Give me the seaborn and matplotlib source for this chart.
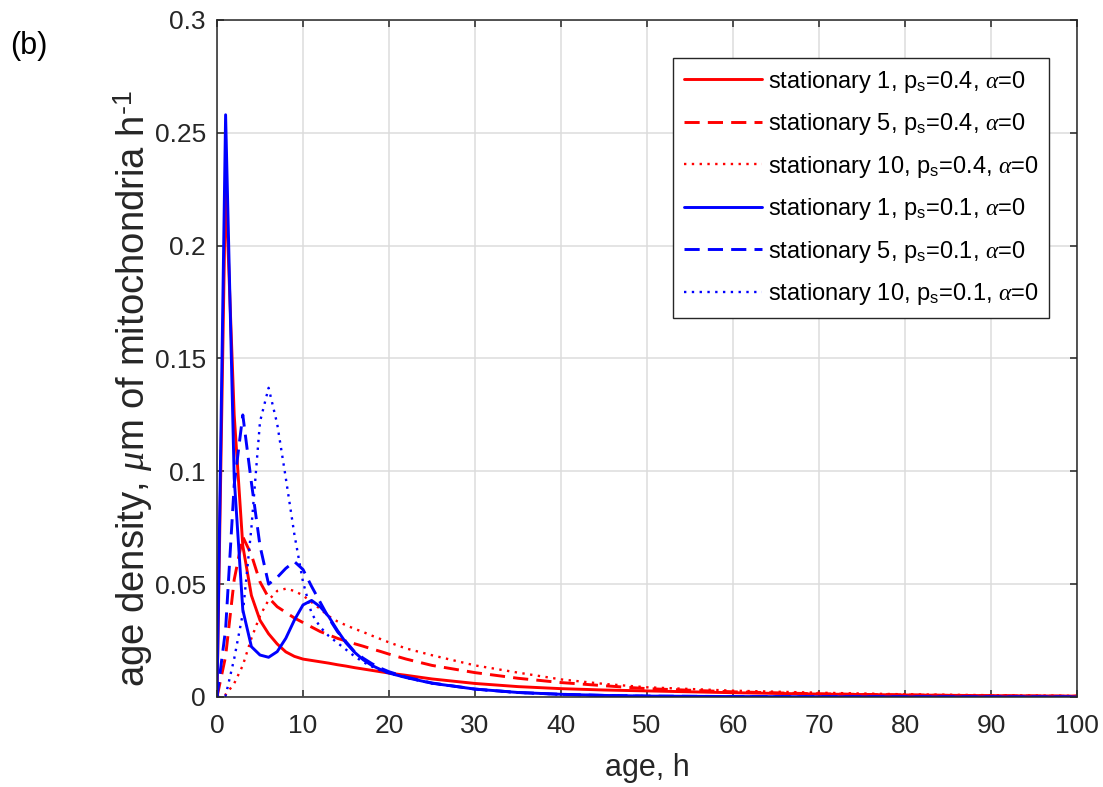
import numpy as np
import pandas as pd
import matplotlib
matplotlib.use("Agg")
import matplotlib.pyplot as plt
import seaborn as sns

# Age grid (hours) at which the stationary densities are tabulated
age = [0, 1, 2, 3, 4, 5, 6, 7, 8, 9, 10, 11, 12, 13, 14, 15, 16, 17, 18, 19, 20,
       22, 25, 30, 35, 40, 45, 50, 60, 70, 80, 90, 100]

# p_s = 0.4
stat1_p04 = [0, 0.228, 0.125, 0.067, 0.045, 0.034, 0.028, 0.0235, 0.020, 0.018, 0.0168,
             0.0162, 0.0156, 0.0150, 0.0143, 0.0137, 0.0130, 0.0124, 0.0118, 0.0112, 0.0106,
             0.0096, 0.0080, 0.0060, 0.0046, 0.0037, 0.0031, 0.0027, 0.0019, 0.0013,
             0.0009, 0.0006, 0.0004]
stat5_p04 = [0, 0.018, 0.052, 0.071, 0.063, 0.051, 0.044, 0.040, 0.0375, 0.035, 0.033,
             0.031, 0.029, 0.0275, 0.026, 0.0248, 0.0236, 0.0225, 0.0213, 0.0202, 0.019,
             0.0168, 0.0140, 0.0108, 0.0083, 0.0064, 0.0050, 0.0037, 0.0023, 0.0014,
             0.0009, 0.0005, 0.0003]
stat10_p04 = [0, 0.001, 0.006, 0.014, 0.026, 0.036, 0.043, 0.047, 0.048, 0.047, 0.045,
              0.042, 0.039, 0.0358, 0.0335, 0.0318, 0.0302, 0.0288, 0.0272, 0.0257, 0.0242,
              0.0215, 0.0185, 0.0140, 0.0108, 0.0078, 0.0058, 0.0043, 0.0028, 0.0019,
              0.0012, 0.0008, 0.0005]

# p_s = 0.1
stat1_p01 = [0, 0.258, 0.097, 0.0386, 0.0223, 0.0186, 0.0176, 0.0201, 0.026, 0.0341, 0.0408,
             0.0428, 0.040, 0.0356, 0.0295, 0.024, 0.0198, 0.0165, 0.014, 0.0122, 0.0106,
             0.0086, 0.0061, 0.0035, 0.0020, 0.0012, 0.0007, 0.0004, 0.0002, 0.0001,
             0.00005, 0.00003, 0.00002]
stat5_p01 = [0, 0.030, 0.094, 0.125, 0.095, 0.067, 0.050, 0.053, 0.057, 0.060, 0.0565,
             0.049, 0.042, 0.035, 0.029, 0.0245, 0.020, 0.0172, 0.0148, 0.0128, 0.0112,
             0.0088, 0.0062, 0.0035, 0.0020, 0.0012, 0.0007, 0.0004, 0.0002, 0.0001,
             0.00005, 0.00003, 0.00002]
stat10_p01 = [0, 0.0005, 0.017, 0.037, 0.075, 0.122, 0.137, 0.121, 0.097, 0.072, 0.051,
              0.037, 0.031, 0.027, 0.024, 0.021, 0.018, 0.0155, 0.0135, 0.0118, 0.0105,
              0.0085, 0.0060, 0.0034, 0.0019, 0.0011, 0.0007, 0.0004, 0.0002, 0.0001,
              0.00005, 0.00003, 0.00002]

series_labels = [
    r"stationary 1, p$_\mathregular{s}$=0.4, $\alpha$=0",
    r"stationary 5, p$_\mathregular{s}$=0.4, $\alpha$=0",
    r"stationary 10, p$_\mathregular{s}$=0.4, $\alpha$=0",
    r"stationary 1, p$_\mathregular{s}$=0.1, $\alpha$=0",
    r"stationary 5, p$_\mathregular{s}$=0.1, $\alpha$=0",
    r"stationary 10, p$_\mathregular{s}$=0.1, $\alpha$=0",
]
series_values = [stat1_p04, stat5_p04, stat10_p04, stat1_p01, stat5_p01, stat10_p01]

x_ticks = [0, 10, 20, 30, 40, 50, 60, 70, 80, 90, 100]
y_ticks = [0, 0.05, 0.1, 0.15, 0.2, 0.25, 0.3]
y_ticklabels = ["0", "0.05", "0.1", "0.15", "0.2", "0.25", "0.3"]

sns.set_theme(style="white")
plt.rcParams["font.family"] = ["Liberation Sans", "DejaVu Sans"]
plt.rcParams["mathtext.fontset"] = "custom"
plt.rcParams["mathtext.rm"] = "Liberation Sans"
plt.rcParams["mathtext.it"] = "Liberation Serif:italic"
plt.rcParams["mathtext.default"] = "it"

INK = "#262626"
styles = [
    dict(color=(1, 0, 0), linestyle="-", linewidth=2.1),
    dict(color=(1, 0, 0), linestyle=(0, (5.2, 2.8)), linewidth=2.1),
    dict(color=(1, 0, 0), linestyle=(0, (1.0, 2.3)), linewidth=1.7),
    dict(color=(0, 0, 1), linestyle="-", linewidth=2.1),
    dict(color=(0, 0, 1), linestyle=(0, (5.2, 2.8)), linewidth=2.1),
    dict(color=(0, 0, 1), linestyle=(0, (1.0, 2.3)), linewidth=1.7),
]

fig = plt.figure(figsize=(11.03, 7.87), dpi=100)
ax = fig.add_axes([217 / 1103, 1 - 697 / 787, 860 / 1103, 677 / 787])

for vals, lab, st in zip(series_values, series_labels, styles):
    df = pd.DataFrame({"age": age, "density": vals})
    sns.lineplot(data=df, x="age", y="density", ax=ax, label=lab,
                 estimator=None, sort=False, **st)

ax.set_xlim(0, 100)
ax.set_ylim(0, 0.3)
ax.set_xticks(x_ticks)
ax.set_xticklabels([str(t) for t in x_ticks])
ax.set_yticks(y_ticks)
ax.set_yticklabels(y_ticklabels)

ax.grid(True, color="#dcdcdc", linewidth=1.1)
ax.set_axisbelow(True)
for sp in ax.spines.values():
    sp.set_visible(True)
    sp.set_color(INK)
    sp.set_linewidth(1.1)

ax.tick_params(axis="both", which="major", direction="in", length=5, width=1.1,
               color=INK, labelcolor=INK, labelsize=19,
               top=True, right=True, bottom=True, left=True)
ax.tick_params(axis="x", pad=12)
ax.tick_params(axis="y", pad=8)

ax.set_xlabel("age, h", fontsize=22, color=INK)
ax.xaxis.set_label_coords(0.5, -0.083)
ax.xaxis.label.set_va("top")
ax.set_ylabel("age density, $\\mu$m of mitochondria h$^{\\mathregular{\u20101}}$",
              fontsize=27.5, color=INK)
ax.yaxis.set_label_coords(-0.098, 0.455)
ax.yaxis.label.set_va("center")

leg = ax.legend(loc="upper right", bbox_to_anchor=(0.9674, 0.9439), borderaxespad=0,
                fontsize=17, frameon=True, fancybox=False, framealpha=1,
                edgecolor=INK, handlelength=3.3, handletextpad=0.25,
                labelspacing=0.70, borderpad=0.45)
leg.get_frame().set_linewidth(1.0)
for t in leg.get_texts():
    t.set_color("black")

fig.text(10 / 1103, 1 - 46 / 787, "(b)", fontsize=22, color="black", va="center", ha="left")

fig.savefig("out.png", dpi=100)
